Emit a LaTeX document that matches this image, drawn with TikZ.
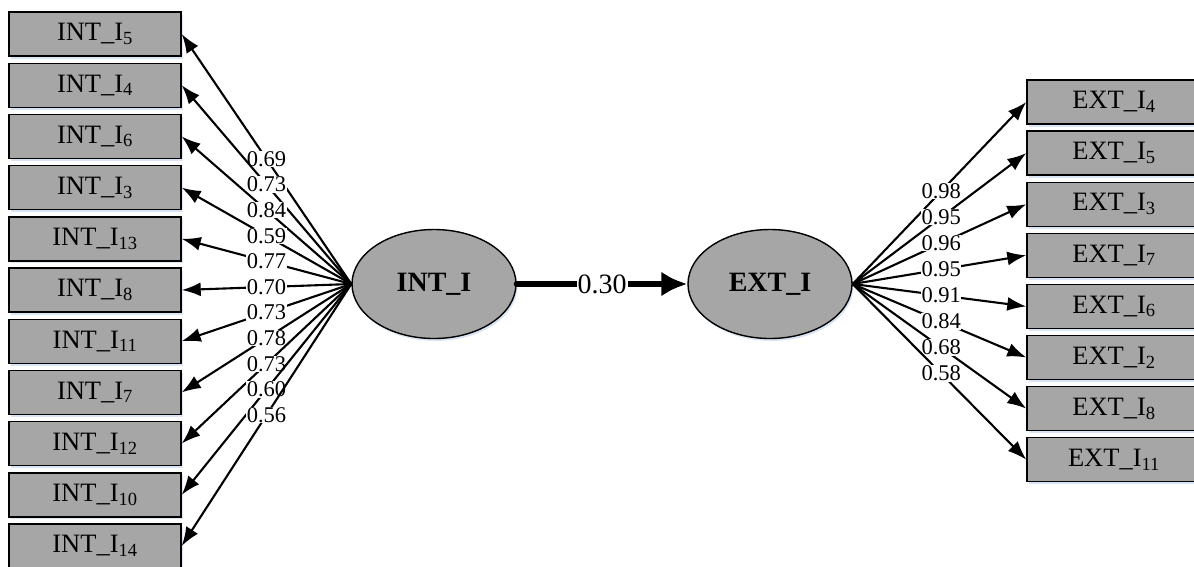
\documentclass[tikz,border=0pt]{standalone}
\usepackage{fontspec}
\setmainfont{Liberation Serif}
\usetikzlibrary{arrows.meta,shapes.geometric,shadows}
\definecolor{boxgray}{RGB}{166,166,166}
\definecolor{glow}{RGB}{218,230,245}

\begin{document}
\begin{tikzpicture}[x=1pt, y=-1pt, >={Latex[length=19pt,width=14pt]},
  indicator/.style={rectangle, draw, line width=1.4pt, fill=boxgray,
            minimum width=172pt, minimum height=44pt, inner sep=0pt,
            font=\fontsize{26.5}{28}\selectfont,
            drop shadow={shadow xshift=1.5pt, shadow yshift=-2.5pt, fill=glow, opacity=1}},
  factor/.style={ellipse, draw, line width=1.4pt, fill=boxgray,
            minimum width=164pt, minimum height=109pt, inner sep=0pt,
            font=\fontsize{28}{30}\selectfont\bfseries,
            drop shadow={shadow xshift=1.5pt, shadow yshift=-2.5pt, fill=glow, opacity=1}},
  coef/.style={fill=white, inner sep=0.5pt, font=\fontsize{22.5}{22.5}\selectfont},
  loading/.style={->, line width=2.1pt}]
  \useasboundingbox (0,0) rectangle (1194,566);
  \clip (0,0) rectangle (1194,566);
  \node[factor] (int) at (434,284) {INT\_I};
  \node[factor] (ext) at (770,284) {EXT\_I};
  % left indicators
  \foreach \k/\load [count=\i from 0] in {5/0.69, 4/0.73, 6/0.84, 3/0.59,
      13/0.77, 8/0.70, 11/0.73, 7/0.78, 12/0.73, 10/0.60, 14/0.56}{
    \node[indicator] (l\i) at (95, {34+51.2*\i}) {INT\_I\textsubscript{\k}};
    \draw[loading] (int.west) -- (l\i.east) node[coef, pos=0.5] {\load};
  }
  % right indicators
  \foreach \k/\load [count=\j from 0] in {4/0.98, 5/0.95, 3/0.96, 7/0.95,
      6/0.91, 2/0.84, 8/0.68, 11/0.58}{
    \node[indicator, minimum width=174pt] (r\j) at (1114, {102+51.1*\j})
         {EXT\_I\textsubscript{\k}};
    \draw[loading] (ext.east) -- (r\j.west) node[coef, pos=0.51] {\load};
  }
  \draw[line width=6pt, line cap=round, -{Latex[length=26pt,width=25pt]}]
       (int.east) -- (ext.west)
       node[pos=0.5, fill=white, inner sep=1pt, font=\fontsize{28}{28}\selectfont] {0.30};
\end{tikzpicture}
\end{document}
